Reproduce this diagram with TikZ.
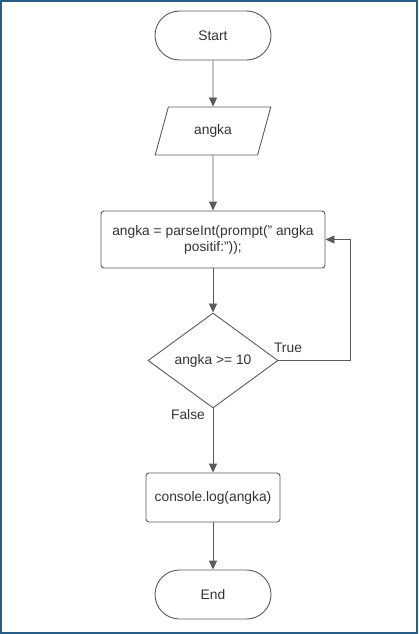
\documentclass[tikz,border=0pt]{standalone}
\usepackage{fontspec}
\setmainfont{Liberation Sans}
\usepackage{tikz}
\usetikzlibrary{shapes.geometric,arrows.meta}
\definecolor{lineGray}{HTML}{5A5A5A}
\definecolor{textGray}{HTML}{333333}
\definecolor{frameBlue}{HTML}{2A5C88}
\newcommand*{\xMid}{213}
\newcommand*{\wPic}{418}
\newcommand*{\hPic}{634}
\tikzset{
  box/.style={draw=lineGray,line width=0.9pt,text=textGray,font=\fontsize{13.8}{16}\selectfont,align=center,inner sep=2pt},
  terminal/.style={box,rectangle,rounded corners=24.5pt,minimum width=116pt,minimum height=49pt},
  iobox/.style={box,trapezium,trapezium left angle=70,trapezium right angle=110,trapezium stretches=true,minimum width=116pt,minimum height=48pt},
  procbox/.style={box,rectangle,rounded corners=3pt},
  decision/.style={box,diamond,minimum width=130pt,minimum height=95pt,aspect=1.37,inner sep=0pt},
  arr/.style={draw=lineGray,line width=0.9pt,-{Triangle[length=9pt,width=8pt]}},
  lbl/.style={text=textGray,font=\fontsize{13.8}{16}\selectfont,inner sep=0pt}
}
\begin{document}
\begin{tikzpicture}[x=1pt,y=-1pt]
	\useasboundingbox (0,0) rectangle (\wPic,\hPic);
	\draw [frameBlue,line width=2pt] (1,1) rectangle (\wPic-1,\hPic-1);

	\node [terminal] (start) at (\xMid,35.5) {Start};
	\node [iobox] (input) at (\xMid,131) {angka};
	\node [procbox,minimum width=224pt,minimum height=57pt] (parse) at (\xMid,239.5) {angka = parseInt(prompt(\symbol{34} angka\\positif:\symbol{34}));};
	\node [decision] (check) at (\xMid,360.5) {angka >= 10};
	\node [procbox,minimum width=134pt,minimum height=49pt] (print) at (\xMid,497.5) {console.log(angka)};
	\node [terminal] (end) at (\xMid,594.5) {End};

	\draw [arr] (start) -- (input);
	\draw [arr] (input) -- (parse);
	\draw [arr] (parse) -- (check);
	\draw [arr] (check) -- (print);
	\draw [arr] (print) -- (end);
	\draw [arr] (check.east) -- ++(72,0) |- (parse.east);

	\node [lbl] (yes) at (288,348) {True};
	\node [lbl] (no) at (188,415) {False};
\end{tikzpicture}
\end{document}
